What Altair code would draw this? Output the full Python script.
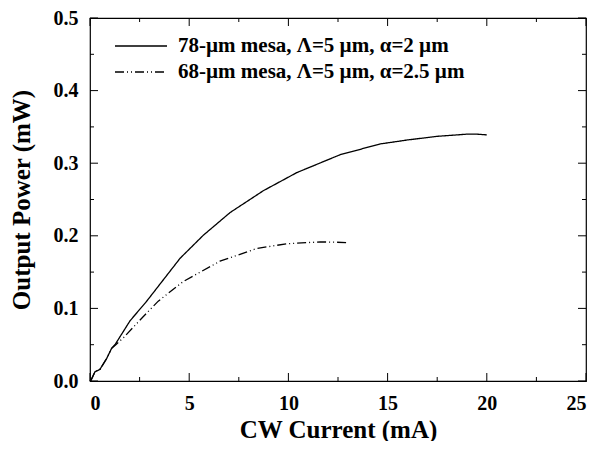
import altair as alt
import pandas as pd

series_names = ["78-\u00b5m mesa, \u039b=5 \u00b5m, \u03b1=2 \u00b5m",
                "68-\u00b5m mesa, \u039b=5 \u00b5m, \u03b1=2.5 \u00b5m"]

x_a = [0.0, 0.05, 0.25, 0.5, 0.84, 1.09, 1.26, 2.02, 2.86, 3.6, 4.54, 5.71, 7.06, 8.73,
       10.42, 12.6, 14.62, 16.0, 17.5, 19.0, 19.5, 20.0]
y_a = [0.0, 0.001, 0.0126, 0.016, 0.031, 0.045, 0.05, 0.083, 0.110, 0.136, 0.169, 0.2007,
       0.232, 0.262, 0.287, 0.3116, 0.3265, 0.332, 0.337, 0.340, 0.340, 0.339]

x_b = [0.0, 0.05, 0.25, 0.5, 0.84, 1.09, 1.3, 1.7, 2.18, 2.8, 3.44, 4.7, 6.55, 8.4,
       9.9, 11.6, 12.4, 13.0]
y_b = [0.0, 0.001, 0.0126, 0.016, 0.031, 0.045, 0.05, 0.06, 0.074, 0.092, 0.110, 0.137,
       0.165, 0.1825, 0.189, 0.1916, 0.1912, 0.1906]

x_major = [0, 5, 10, 15, 20, 25]
x_minor = [2.5, 7.5, 12.5, 17.5, 22.5]
y_major = [0.0, 0.1, 0.2, 0.3, 0.4, 0.5]
y_minor = [0.05, 0.15, 0.25, 0.35, 0.45]

W, H = 496, 363
FONT = "Liberation Serif, Times New Roman, Times, serif"

df = pd.concat([
    pd.DataFrame({"x": x_a, "y": y_a, "s": series_names[0], "o": range(len(x_a))}),
    pd.DataFrame({"x": x_b, "y": y_b, "s": series_names[1], "o": range(len(x_b))}),
])

xscale = alt.Scale(domain=[0, 25], nice=False)
yscale = alt.Scale(domain=[0, 0.5], nice=False)

lines = alt.Chart(df).mark_line(color="black", strokeWidth=1.3).encode(
    x=alt.X("x:Q", scale=xscale,
            axis=alt.Axis(title="CW Current (mA)", values=x_major, format="d",
                          tickSize=0, domain=False, grid=False, labelPadding=12,
                          titlePadding=4)),
    y=alt.Y("y:Q", scale=yscale,
            axis=alt.Axis(title="Output Power (mW)", values=y_major, format=".1f",
                          tickSize=0, domain=False, grid=False, labelPadding=12,
                          titlePadding=19)),
    strokeDash=alt.StrokeDash("s:N",
        scale=alt.Scale(domain=series_names, range=[[1, 0], [9, 3, 1, 3, 1, 3]]),
        sort=series_names,
        legend=alt.Legend(title=None, orient="none", legendX=37, legendY=14,
                          symbolType="M-2,0H2", symbolSize=676, symbolStrokeWidth=1.3,
                          symbolStrokeColor="black", labelFont=FONT, labelFontSize=21,
                          labelFontWeight="bold", labelColor="black", labelOffset=23,
                          rowPadding=2, labelLimit=450)),
    order="o:Q",
)

def xticks(vals, length):
    d = pd.DataFrame({"x": vals})
    bot = alt.Chart(d).mark_rule(color="black", strokeWidth=1).encode(
        x=alt.X("x:Q", scale=xscale), y=alt.value(H), y2=alt.value(H - length))
    top = alt.Chart(d).mark_rule(color="black", strokeWidth=1).encode(
        x=alt.X("x:Q", scale=xscale), y=alt.value(0), y2=alt.value(length))
    return bot + top

def yticks(vals, length):
    d = pd.DataFrame({"y": vals})
    left = alt.Chart(d).mark_rule(color="black", strokeWidth=1).encode(
        y=alt.Y("y:Q", scale=yscale), x=alt.value(0), x2=alt.value(length))
    right = alt.Chart(d).mark_rule(color="black", strokeWidth=1).encode(
        y=alt.Y("y:Q", scale=yscale), x=alt.value(W), x2=alt.value(W - length))
    return left + right

chart = alt.layer(
    lines,
    xticks(x_major, 8), xticks(x_minor, 4),
    yticks(y_major, 8), yticks(y_minor, 4),
).properties(
    width=W, height=H,
    autosize=alt.AutoSizeParams(type="none"),
    padding={"left": 82, "top": 10, "right": 5, "bottom": 60},
).configure_view(
    stroke="black", strokeWidth=1.2
).configure_axis(
    labelFont=FONT, labelFontSize=20, labelFontWeight="bold", labelColor="black",
    titleFont=FONT, titleFontSize=25, titleFontWeight="bold", titleColor="black",
).resolve_scale(x="shared", y="shared")

chart.save("out.html", embed_options={"renderer": "svg", "actions": False})
